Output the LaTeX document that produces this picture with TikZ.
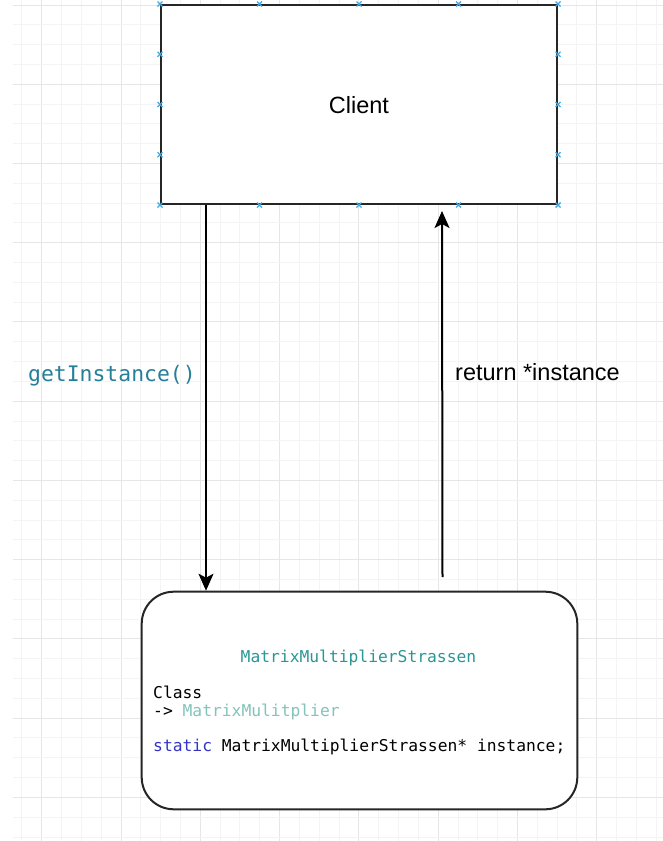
\documentclass[tikz,border=0pt]{standalone}
\usepackage{fontspec}
\setmainfont{Liberation Sans}
\newfontfamily\codefont{DejaVu Sans Mono}
\usetikzlibrary{arrows.meta,calc}

\definecolor{gridminor}{HTML}{F4F4F4}
\definecolor{gridmajor}{HTML}{E6E6E6}
\definecolor{handle}{HTML}{3FA9E8}
\definecolor{calltxt}{HTML}{267F99}
\definecolor{classname}{HTML}{2A9696}
\definecolor{basename}{HTML}{82C4BA}
\definecolor{keyword}{HTML}{3434C8}

\tikzset{
  box/.style={draw=black!85, line width=2pt, fill=white, inner sep=0pt},
  flow/.style={draw=black, line width=2pt, -{Stealth[length=17pt,width=15pt,inset=4pt]}},
  code/.style={font=\codefont\fontsize{16.3}{18}\selectfont, inner sep=0pt},
  lbl/.style={font=\fontsize{23.5}{26}\selectfont, inner sep=0pt},
  handlemark/.style={handle, line width=1.4pt},
}

\begin{document}
\begin{tikzpicture}[x=1pt,y=-1pt]
  \useasboundingbox (0,0) rectangle (663,841);

  % background grid
  \foreach \i in {-1,...,31} {
    \pgfmathsetmacro\xx{41.7+19.825*\i}
    \pgfmathtruncatemacro\mj{mod(\i+4,4)==0}
    \ifnum\mj=1 \def\gc{gridmajor}\else\def\gc{gridminor}\fi
    \draw[\gc, line width=1pt] (\xx,0) -- (\xx,841);
  }
  \foreach \j in {0,...,42} {
    \pgfmathsetmacro\yy{5+19.81*\j}
    \pgfmathtruncatemacro\mj{mod(\j,4)==0}
    \ifnum\mj=1 \def\gc{gridmajor}\else\def\gc{gridminor}\fi
    \draw[\gc, line width=1pt] (13,\yy) -- (663,\yy);
  }

  % client box
  \node[box, minimum width=396pt, minimum height=199pt] (client) at (359,104.5) {};
  \node[lbl, anchor=base] (clientlbl) at (359,113) {Client};

  % connection handles on the client box
  \foreach \t in {0,0.25,0.5,0.75,1} {
    \foreach \a/\b in {north west/north east, south west/south east} {
      \path ($(client.\a)!\t!(client.\b)$) coordinate (h);
      \draw[handlemark] ([xshift=-2.5pt,yshift=-2.5pt]h) -- ([xshift=2.5pt,yshift=2.5pt]h)
                        ([xshift=-2.5pt,yshift=2.5pt]h) -- ([xshift=2.5pt,yshift=-2.5pt]h);
    }
  }
  \foreach \t in {0.25,0.5,0.75} {
    \foreach \a/\b in {north west/south west, north east/south east} {
      \path ($(client.\a)!\t!(client.\b)$) coordinate (h);
      \draw[handlemark] ([xshift=-2.5pt,yshift=-2.5pt]h) -- ([xshift=2.5pt,yshift=2.5pt]h)
                        ([xshift=-2.5pt,yshift=2.5pt]h) -- ([xshift=2.5pt,yshift=-2.5pt]h);
    }
  }

  % class box
  \node[box, rounded corners=32pt, minimum width=435.6pt, minimum height=217.6pt] (cls) at (359.5,700.5) {};
  \node[code, anchor=base, text=classname] (clsname) at (358.5,662.5) {MatrixMultiplierStrassen};
  \node[code, anchor=base west] (clskind) at (153,698.5) {Class};
  \node[code, anchor=base west] (clsbase) at (153,716.5) {-> \textcolor{basename}{MatrixMulitplier}};
  \node[code, anchor=base west] (clsmember) at (153,751.5)
    {\textcolor{keyword}{static} MatrixMultiplierStrassen* instance;};

  % call and return connectors
  \coordinate (retstart) at ([xshift=83pt,yshift=13.5pt]cls.north);
  \coordinate (retend) at ([xshift=83pt,yshift=-6pt]client.south);
  \draw[flow] ([xshift=-153pt]client.south) -- ([xshift=-153pt]client.south |- cls.north);
  \draw[flow] (retstart) -- (retend);

  % connector labels
  \node[anchor=base west, inner sep=0pt, text=calltxt, font=\codefont\fontsize{21.4}{24}\selectfont] (call) at (28,381) {getInstance()};
  \node[lbl, anchor=base west] (ret) at (455,380) {return *instance};
\end{tikzpicture}
\end{document}
